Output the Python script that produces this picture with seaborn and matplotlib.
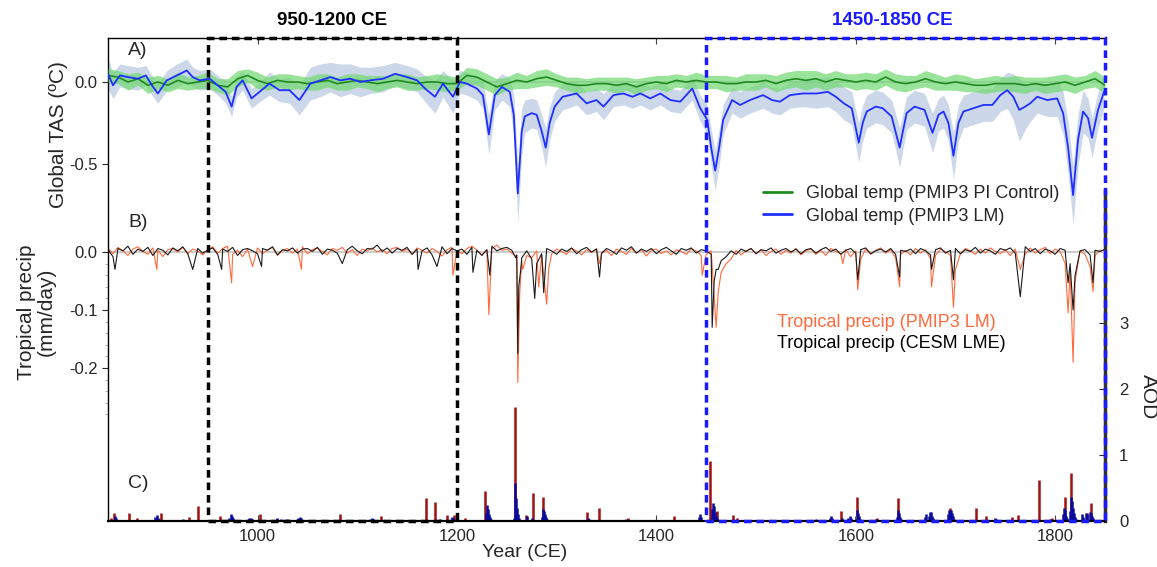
import numpy as np
import pandas as pd
import seaborn as sns
import matplotlib.pyplot as plt
from matplotlib.lines import Line2D
from matplotlib.patches import Rectangle
from matplotlib.transforms import blended_transform_factory

sns.set_style("ticks")
plt.rcParams["font.family"] = ["Liberation Sans", "DejaVu Sans"]

# ---- A) global temperature, PMIP3 LM (blue) ----
lm_years = [850, 855, 862, 870, 880, 888, 894, 900, 909, 919,
            929, 935, 942, 952, 962, 968, 974, 979, 985, 994,
            1002, 1012, 1022, 1032, 1042, 1053, 1063, 1073, 1083, 1093,
            1103, 1113, 1126, 1138, 1150, 1160, 1168, 1178, 1186, 1196,
            1203, 1210, 1220, 1226, 1232, 1238, 1245, 1253, 1257, 1261,
            1265, 1268, 1275, 1280, 1285, 1289, 1293, 1298, 1306, 1320,
            1330, 1340, 1347, 1357, 1367, 1376, 1384, 1394, 1404, 1414,
            1424, 1436, 1444, 1451, 1455, 1459, 1463, 1467, 1476, 1484,
            1494, 1507, 1516, 1524, 1534, 1547, 1561, 1572, 1580, 1588,
            1596, 1603, 1607, 1611, 1620, 1627, 1636, 1644, 1651, 1659,
            1669, 1677, 1683, 1688, 1693, 1698, 1703, 1708, 1718, 1728,
            1737, 1745, 1752, 1758, 1764, 1770, 1775, 1782, 1792, 1802,
            1808, 1813, 1818, 1823, 1828, 1833, 1837, 1843, 1849]
lm_temp = [0.05, -0.02, 0.04, 0.03, 0.02, 0.04, -0.02, -0.07, 0.01, 0.04,
           0.07, 0.03, 0.01, 0.02, -0.03, -0.06, -0.15, -0.03, 0.01, -0.10,
           -0.06, -0.01, -0.05, -0.05, -0.11, -0.01, 0.01, 0.03, 0.01, 0.02,
           0.00, 0.01, 0.02, 0.05, 0.03, 0.01, -0.04, -0.09, -0.01, -0.09,
           0.00, -0.01, -0.04, -0.08, -0.32, -0.08, -0.03, -0.06, -0.20, -0.68,
           -0.30, -0.21, -0.19, -0.20, -0.30, -0.40, -0.25, -0.15, -0.09, -0.07,
           -0.13, -0.11, -0.15, -0.08, -0.07, -0.09, -0.07, -0.10, -0.07, -0.11,
           -0.12, -0.04, -0.16, -0.23, -0.40, -0.54, -0.40, -0.23, -0.11, -0.14,
           -0.11, -0.08, -0.11, -0.12, -0.08, -0.07, -0.07, -0.06, -0.09, -0.13,
           -0.16, -0.37, -0.25, -0.18, -0.15, -0.16, -0.21, -0.40, -0.19, -0.15,
           -0.17, -0.31, -0.20, -0.18, -0.25, -0.45, -0.25, -0.18, -0.16, -0.14,
           -0.14, -0.08, -0.05, -0.09, -0.17, -0.15, -0.13, -0.09, -0.11, -0.10,
           -0.19, -0.40, -0.69, -0.35, -0.18, -0.22, -0.34, -0.17, -0.06]
lm_spread = [0.09, 0.08, 0.07, 0.07, 0.07, 0.06, 0.06, 0.06, 0.06, 0.07,
             0.07, 0.06, 0.06, 0.06, 0.06, 0.07, 0.06, 0.06, 0.06, 0.06,
             0.06, 0.07, 0.07, 0.08, 0.09, 0.10, 0.10, 0.09, 0.10, 0.09,
             0.09, 0.08, 0.08, 0.07, 0.07, 0.07, 0.08, 0.10, 0.08, 0.10,
             0.07, 0.07, 0.07, 0.08, 0.12, 0.09, 0.08, 0.09, 0.12, 0.18,
             0.14, 0.10, 0.09, 0.09, 0.10, 0.12, 0.10, 0.09, 0.08, 0.07,
             0.07, 0.07, 0.08, 0.07, 0.07, 0.07, 0.07, 0.07, 0.07, 0.07,
             0.07, 0.07, 0.08, 0.09, 0.11, 0.12, 0.11, 0.09, 0.08, 0.08,
             0.08, 0.08, 0.08, 0.08, 0.08, 0.08, 0.09, 0.09, 0.09, 0.10,
             0.10, 0.12, 0.11, 0.10, 0.10, 0.10, 0.10, 0.12, 0.10, 0.10,
             0.10, 0.12, 0.10, 0.10, 0.11, 0.14, 0.11, 0.10, 0.10, 0.10,
             0.10, 0.10, 0.11, 0.14, 0.19, 0.14, 0.11, 0.10, 0.10, 0.11,
             0.13, 0.16, 0.18, 0.16, 0.13, 0.12, 0.12, 0.11, 0.10]

# ---- A) global temperature, PMIP3 PI control (green), every 10 years ----
pi_years = list(range(850, 1851, 10))
pi_temp = [0.04, 0.03, 0.00, 0.02, -0.02, 0.00, -0.02, 0.01, -0.01, 0.00,
           0.01, -0.02, -0.03, 0.02, 0.04, 0.01, -0.01, 0.01, 0.00, 0.00,
           -0.01, 0.00, 0.01, -0.01, 0.00, 0.01, 0.00, -0.01, 0.00, 0.01,
           0.00, -0.01, 0.00, 0.00, -0.01, -0.01, 0.04, 0.03, 0.00, -0.03,
           -0.01, 0.01, 0.00, 0.02, 0.03, 0.01, -0.01, -0.02, -0.02, -0.01,
           -0.01, -0.02, -0.01, -0.03, -0.01, 0.00, -0.01, 0.01, 0.00, 0.01,
           0.00, 0.00, -0.01, -0.01, 0.00, 0.00, 0.01, -0.01, 0.01, 0.02,
           0.01, 0.02, 0.00, 0.02, 0.01, 0.00, 0.01, 0.00, 0.03, 0.00,
           -0.01, 0.00, 0.02, 0.00, -0.01, 0.00, -0.01, -0.02, -0.02, -0.01,
           -0.01, -0.01, -0.02, -0.01, -0.02, -0.01, 0.00, -0.02, 0.00, 0.02,
           -0.02]
pi_spread = [0.04, 0.04, 0.05, 0.04, 0.05, 0.04, 0.04, 0.05, 0.04, 0.04,
             0.05, 0.04, 0.05, 0.05, 0.04, 0.05, 0.04, 0.04, 0.05, 0.04,
             0.04, 0.05, 0.04, 0.04, 0.05, 0.04, 0.04, 0.05, 0.04, 0.04,
             0.05, 0.04, 0.04, 0.05, 0.05, 0.04, 0.05, 0.05, 0.05, 0.05,
             0.04, 0.05, 0.04, 0.05, 0.05, 0.04, 0.04, 0.05, 0.04, 0.04,
             0.04, 0.05, 0.04, 0.05, 0.04, 0.04, 0.05, 0.04, 0.04, 0.05,
             0.04, 0.04, 0.05, 0.04, 0.05, 0.05, 0.04, 0.05, 0.05, 0.05,
             0.06, 0.05, 0.05, 0.05, 0.04, 0.05, 0.05, 0.05, 0.05, 0.05,
             0.05, 0.04, 0.05, 0.05, 0.04, 0.05, 0.05, 0.04, 0.05, 0.05,
             0.04, 0.05, 0.05, 0.04, 0.05, 0.05, 0.05, 0.05, 0.04, 0.05,
             0.05]

# ---- B) tropical precipitation, background every 5 years ----
pr_years = list(range(850, 1851, 5))
cesm_bg = [0.004, -0.008, 0.006, 0.002, 0.010, -0.004, 0.005, 0.001, 0.008, -0.006,
           0.006, 0.003, -0.005, 0.007, 0.002, 0.009, -0.003, 0.004, 0.006, -0.002,
           0.003, 0.007, -0.004, 0.005, 0.001, 0.008, -0.006, 0.004, 0.006, 0.002,
           -0.003, 0.006, 0.003, 0.009, -0.005, 0.004, 0.002, 0.007, -0.002, 0.005,
           0.006, 0.001, 0.008, -0.004, 0.005, 0.003, -0.002, 0.007, 0.004, 0.010,
           0.002, -0.003, 0.006, 0.005, 0.012, 0.001, 0.007, -0.002, 0.006, 0.003,
           0.008, -0.004, 0.005, 0.002, 0.007, -0.005, 0.004, 0.009, -0.003, 0.006,
           0.002, 0.005, -0.004, 0.008, 0.003, -0.006, 0.004, 0.010, 0.002, 0.006,
           0.008, 0.003, -0.005, -0.010, 0.002, -0.012, 0.004, -0.003, 0.006, 0.002,
           -0.004, 0.005, 0.001, 0.007, -0.003, 0.004, 0.008, 0.000, 0.005, -0.002,
           0.006, 0.002, -0.004, 0.007, 0.003, 0.009, -0.002, 0.005, 0.001, 0.006,
           -0.003, 0.004, 0.008, 0.002, -0.004, 0.006, 0.003, 0.007, -0.002, 0.004,
           0.002, -0.004, -0.030, -0.015, -0.008, 0.002, -0.004, 0.005, 0.001, 0.006,
           -0.003, 0.004, 0.002, 0.007, -0.002, 0.003, 0.006, 0.000, 0.005, -0.003,
           0.004, 0.006, -0.002, 0.004, 0.008, 0.001, 0.005, -0.004, 0.003, 0.006,
           -0.002, 0.004, 0.007, -0.003, 0.002, 0.005, 0.000, 0.006, -0.004, 0.003,
           0.001, 0.005, -0.003, 0.006, 0.002, -0.005, 0.004, 0.007, -0.002, 0.003,
           0.006, -0.003, 0.004, 0.001, 0.008, -0.002, 0.005, 0.002, -0.004, 0.006,
           0.003, 0.007, -0.002, 0.004, 0.009, 0.001, 0.006, -0.003, 0.005, 0.002,
           -0.004, 0.006, 0.003, -0.010, -0.015, 0.002, 0.004, -0.005, 0.003, 0.001,
           0.005]
pmip_bg = [0.006, -0.003, 0.008, 0.002, -0.006, 0.005, 0.009, 0.001, -0.004, 0.007,
           0.003, -0.008, 0.004, 0.006, 0.000, 0.008, -0.003, 0.005, 0.002, -0.005,
           0.004, 0.009, -0.002, 0.006, 0.010, -0.004, 0.003, -0.008, 0.005, 0.002,
           0.007, -0.003, 0.004, 0.008, -0.006, 0.003, 0.006, -0.002, 0.005, 0.009,
           -0.003, 0.004, 0.007, 0.001, -0.005, 0.006, 0.003, 0.008, -0.002, 0.004,
           -0.006, 0.005, 0.002, 0.007, 0.000, 0.004, -0.003, 0.006, 0.008, 0.001,
           0.005, -0.004, 0.007, 0.003, -0.002, 0.006, 0.001, -0.007, 0.004, 0.008,
           0.002, -0.003, 0.006, 0.010, 0.003, -0.005, 0.004, 0.006, 0.012, 0.003,
           0.005, -0.002, -0.008, -0.015, -0.006, -0.010, 0.002, -0.006, 0.004, -0.003,
           0.005, 0.001, -0.004, 0.006, 0.002, -0.005, 0.004, -0.001, 0.006, -0.003,
           0.003, -0.006, 0.005, 0.001, -0.004, 0.006, -0.002, 0.004, -0.007, 0.003,
           0.005, -0.003, 0.002, -0.005, 0.004, 0.001, -0.004, 0.005, 0.002, -0.006,
           -0.004, 0.002, -0.060, -0.035, -0.020, -0.012, 0.003, -0.005, 0.002, 0.006,
           -0.003, 0.004, -0.006, 0.001, 0.005, -0.004, 0.003, -0.002, 0.006, -0.005,
           0.002, 0.005, -0.004, 0.003, -0.006, 0.006, 0.001, -0.003, 0.004, -0.008,
           0.002, -0.012, 0.005, -0.004, 0.003, 0.007, -0.002, 0.004, -0.010, -0.004,
           0.003, -0.005, 0.006, -0.002, 0.004, -0.012, -0.006, 0.005, 0.001, -0.006,
           0.004, -0.003, 0.006, 0.002, -0.004, 0.005, -0.002, 0.007, 0.001, -0.003,
           0.004, -0.006, 0.005, 0.002, -0.004, 0.007, -0.002, 0.004, 0.008, -0.003,
           0.005, 0.001, -0.020, -0.030, -0.012, 0.002, -0.004, -0.025, -0.006, 0.003,
           0.002]

# volcanic excursions on top of the background
cesm_ev_years = [857, 935, 964, 1004, 1085, 1161, 1180, 1216, 1233, 1259, 1261, 1262,
                 1264, 1278, 1280, 1287, 1289, 1343, 1456, 1458, 1462, 1602, 1644,
                 1676, 1698, 1765, 1813, 1815, 1818, 1820, 1838]
cesm_ev_vals = [-0.030, -0.030, -0.030, -0.025, -0.020, -0.030, -0.025, -0.035, -0.040,
                -0.010, -0.175, -0.060, -0.030, -0.080, -0.020, -0.070, -0.020, -0.043,
                -0.130, -0.050, -0.030, -0.048, -0.043, -0.030, -0.048, -0.077, -0.053,
                -0.020, -0.100, -0.040, -0.053]
pmip_ev_years = [899, 974, 995, 1044, 1196, 1232, 1234, 1261, 1263, 1266, 1282, 1290,
                 1292, 1343, 1446, 1460, 1462, 1587, 1602, 1644, 1676, 1698, 1700,
                 1765, 1813, 1815, 1818, 1820, 1838]
pmip_ev_vals = [-0.030, -0.053, -0.025, -0.030, -0.040, -0.108, -0.030, -0.225, -0.070,
                -0.030, -0.060, -0.090, -0.030, -0.020, -0.040, -0.130, -0.070, -0.020,
                -0.065, -0.060, -0.060, -0.095, -0.030, -0.030, -0.105, -0.030, -0.190,
                -0.050, -0.068]

# ---- C) aerosol optical depth ----
aod_red_years = [853, 856, 871, 879, 903, 931, 940, 962, 1002, 1083, 1124, 1169, 1178,
                 1190, 1197, 1208, 1228, 1258, 1269, 1276, 1286, 1330, 1342, 1372,
                 1418, 1454, 1461, 1477, 1481, 1585, 1601, 1621, 1642, 1695, 1721,
                 1731, 1757, 1763, 1784, 1797, 1810, 1816, 1832, 1836]
aod_red = [0.05, 0.12, 0.12, 0.04, 0.12, 0.06, 0.22, 0.07, 0.11, 0.10, 0.08, 0.35, 0.29,
           0.09, 0.09, 0.04, 0.45, 1.73, 0.09, 0.42, 0.36, 0.13, 0.20, 0.05,
           0.07, 0.91, 0.15, 0.09, 0.05, 0.15, 0.37, 0.04, 0.35, 0.19, 0.20,
           0.08, 0.06, 0.09, 0.62, 0.05, 0.36, 0.73, 0.12, 0.28]
aod_blue_years = [857, 858, 870, 885, 897, 899, 900, 901, 910, 925, 942, 960, 971, 973,
                  974, 975, 991, 993, 994, 1010, 1020, 1024, 1030, 1041, 1043, 1044,
                  1045, 1060, 1075, 1100, 1113, 1115, 1116, 1140, 1155, 1167, 1183,
                  1195, 1196, 1199, 1229, 1230, 1231, 1232, 1233, 1234, 1257, 1258,
                  1259, 1260, 1261, 1262, 1270, 1275, 1285, 1286, 1287, 1288, 1289,
                  1290, 1331, 1332, 1340, 1350, 1370, 1380, 1395, 1410, 1430, 1443,
                  1444, 1445, 1456, 1457, 1458, 1459, 1460, 1461, 1470, 1500, 1520,
                  1540, 1560, 1574, 1575, 1576, 1586, 1592, 1594, 1595, 1600, 1601,
                  1602, 1603, 1604, 1620, 1641, 1642, 1643, 1644, 1645, 1660, 1669,
                  1670, 1673, 1674, 1675, 1676, 1677, 1693, 1694, 1695, 1696, 1697,
                  1698, 1699, 1710, 1725, 1740, 1741, 1755, 1770, 1795, 1808, 1809,
                  1810, 1811, 1812, 1815, 1816, 1817, 1818, 1819, 1820, 1821, 1827,
                  1828, 1831, 1832, 1835, 1836, 1837, 1838]
aod_blue = [0.07, 0.04, 0.02, 0.02, 0.06, 0.09, 0.05, 0.03, 0.02, 0.03, 0.02, 0.02, 0.05, 0.10,
            0.07, 0.04, 0.04, 0.05, 0.03, 0.02, 0.04, 0.03, 0.03, 0.04, 0.06, 0.04,
            0.02, 0.02, 0.02, 0.02, 0.03, 0.05, 0.03, 0.02, 0.02, 0.02, 0.03,
            0.06, 0.05, 0.03, 0.12, 0.25, 0.18, 0.10, 0.06, 0.03, 0.05, 0.57,
            0.35, 0.20, 0.10, 0.05, 0.08, 0.04, 0.06, 0.18, 0.15, 0.10, 0.06,
            0.03, 0.05, 0.03, 0.02, 0.02, 0.03, 0.02, 0.02, 0.02, 0.02, 0.06,
            0.10, 0.06, 0.18, 0.27, 0.22, 0.14, 0.08, 0.05, 0.02, 0.02, 0.02,
            0.02, 0.03, 0.04, 0.07, 0.04, 0.05, 0.05, 0.07, 0.05, 0.08, 0.16,
            0.12, 0.07, 0.03, 0.03, 0.06, 0.17, 0.12, 0.06, 0.03, 0.02, 0.06,
            0.10, 0.08, 0.14, 0.13, 0.08, 0.04, 0.10, 0.17, 0.15, 0.17, 0.12,
            0.07, 0.03, 0.02, 0.02, 0.04, 0.03, 0.02, 0.02, 0.03, 0.10, 0.19,
            0.16, 0.08, 0.04, 0.15, 0.37, 0.30, 0.20, 0.12, 0.06, 0.03, 0.10,
            0.06, 0.12, 0.10, 0.13, 0.12, 0.07, 0.04]


def merge(bg_years, bg_vals, ev_years, ev_vals):
    d = dict(zip(bg_years, bg_vals))
    d.update(zip(ev_years, ev_vals))
    s = pd.Series(d).sort_index()
    return s.index.values, s.values


cesm_x, cesm_y = merge(pr_years, cesm_bg, cesm_ev_years, cesm_ev_vals)
pmip_x, pmip_y = merge(pr_years, pmip_bg, pmip_ev_years, pmip_ev_vals)

lm = np.array(lm_temp)
lm_sp = np.array(lm_spread)
pi = np.array(pi_temp)
pi_sp = np.array(pi_spread)

W, H = 1157, 567
fig = plt.figure(figsize=(W / 100, H / 100), dpi=100)
rect = [108 / W, 46 / H, 997 / W, 483 / H]
ax_a = fig.add_axes(rect)
ax_p = fig.add_axes(rect)
ax_t = fig.add_axes(rect)
for ax in (ax_a, ax_p, ax_t):
    ax.set_xlim(850, 1850)
    ax.patch.set_alpha(0)

# panel A
ax_t.axhline(0, color="#c4c4c4", lw=1.2, zorder=1)
ax_t.fill_between(lm_years, lm - lm_sp, lm + lm_sp, color="#bccbe2", alpha=0.75, lw=0, zorder=2)
ax_t.fill_between(pi_years, pi - pi_sp, pi + pi_sp, color="#6fd86f", alpha=0.7, lw=0, zorder=3)
sns.lineplot(x=pi_years, y=pi_temp, ax=ax_t, color="#1f8a1f", lw=1.2, estimator=None, zorder=4)
sns.lineplot(x=lm_years, y=lm_temp, ax=ax_t, color="#1f2fff", lw=1.3, estimator=None, zorder=5)
ax_t.set_ylim(-439 / 164, 44 / 164)

# panel B
ax_p.axhline(0, color="#c4c4c4", lw=1.2, zorder=1)
sns.lineplot(x=pmip_x, y=pmip_y, ax=ax_p, color="#ff6a3d", lw=0.8, estimator=None, zorder=3)
sns.lineplot(x=cesm_x, y=cesm_y, ax=ax_p, color="#1a1a1a", lw=0.8, estimator=None, zorder=4)
ax_p.set_ylim(-269 / 580, 214 / 580)

# panel C
ax_a.vlines(aod_red_years, 0, aod_red, color="#a01010", lw=1.8, zorder=3)
ax_a.vlines(aod_blue_years, 0, aod_blue, color="#0a0a9c", lw=1.8, zorder=4)
ax_a.set_ylim(0, 483 / 66)

# spines and ticks
ax_t.spines["right"].set_visible(False)
for s in ("left", "top", "bottom"):
    ax_t.spines[s].set_color("black")
    ax_t.spines[s].set_linewidth(1.0)
ax_t.spines["bottom"].set_linewidth(1.6)
ax_t.set_xticks([1000, 1200, 1400, 1600, 1800])
ax_t.tick_params(axis="x", top=True, direction="in", length=4, labelsize=12, pad=6, color="#444444")
ax_t.set_yticks([0, -0.5])
ax_t.set_yticklabels(["0.0", "-0.5"])
ax_t.tick_params(axis="y", direction="out", length=4, labelsize=12)

for s in ("left", "top", "bottom", "right"):
    ax_p.spines[s].set_visible(False)
ax_p.set_xticks([])
ax_p.set_yticks([0, -0.1, -0.2])
ax_p.set_yticklabels(["0.0", "-0.1", "-0.2"])
ax_p.set_yticks(np.arange(-0.28, 0.001, 0.02), minor=True)
ax_p.tick_params(axis="y", which="major", direction="out", length=4, labelsize=12)
ax_p.tick_params(axis="y", which="minor", direction="out", length=2.5, color="#aaaaaa")

for s in ("left", "top", "bottom"):
    ax_a.spines[s].set_visible(False)
ax_a.spines["right"].set_color("#333333")
ax_a.spines["right"].set_linewidth(2.5)
ax_a.spines["right"].set_bounds(0, 5)
ax_a.set_xticks([])
ax_a.yaxis.tick_right()
ax_a.set_yticks([0, 1, 2, 3])
ax_a.tick_params(axis="y", direction="in", length=4, labelsize=12, pad=10)

# labels
ax_t.set_xlabel("Year (CE)", fontsize=14)
ax_t.xaxis.set_label_coords(0.418, -0.047)
ax_t.set_ylabel("Global TAS (ºC)", fontsize=15)
ax_t.yaxis.set_label_coords(-0.040, 0.80)
ax_p.set_xlabel("")
ax_p.set_ylabel("Tropical precip\n(mm/day)", fontsize=15, linespacing=1.1)
ax_p.yaxis.set_label_coords(-0.052, 0.433)
ax_a.set_xlabel("")
ax_a.yaxis.set_label_position("right")
ax_a.set_ylabel("AOD", fontsize=15, rotation=270, va="bottom")
ax_a.yaxis.set_label_coords(1.034, 0.257)

ax_t.text(0.02, 0.975, "A)", transform=ax_t.transAxes, fontsize=14, va="center")
ax_t.text(0.02, 0.619, "B)", transform=ax_t.transAxes, fontsize=14, va="center")
ax_t.text(0.02, 0.077, "C)", transform=ax_t.transAxes, fontsize=14, va="center")

handles = [Line2D([], [], color="#1f8a1f", lw=2),
           Line2D([], [], color="#1f2fff", lw=2)]
ax_t.legend(handles, ["Global temp (PMIP3 PI Control)", "Global temp (PMIP3 LM)"],
            loc="upper left", bbox_to_anchor=(0.657, 0.695), frameon=False,
            fontsize=13, handlelength=1.6, handletextpad=0.8, labelspacing=0.3,
            borderpad=0, borderaxespad=0)
ax_t.text(0.671, 0.41, "Tropical precip (PMIP3 LM)", transform=ax_t.transAxes,
          fontsize=13, color="#ff6a3d", va="center")
ax_t.text(0.671, 0.368, "Tropical precip (CESM LME)", transform=ax_t.transAxes,
          fontsize=13, color="black", va="center")

# highlighted periods
tr = blended_transform_factory(ax_t.transData, ax_t.transAxes)
ax_t.add_patch(Rectangle((950, 0), 250, 1, transform=tr, fill=False, ec="black",
                         lw=2.5, ls=(0, (2.2, 1.4)), clip_on=False, zorder=10))
ax_t.add_patch(Rectangle((1450, 0), 400, 1, transform=tr, fill=False, ec="#1a1aff",
                         lw=2.5, ls=(0, (2.2, 1.4)), clip_on=False, zorder=10))
ax_t.text(1075, 1.037, "950-1200 CE", transform=tr, ha="center", va="center",
          fontsize=13.5, fontweight="bold", color="black")
ax_t.text(1637, 1.037, "1450-1850 CE", transform=tr, ha="center", va="center",
          fontsize=13.5, fontweight="bold", color="#1a1aff")

fig.savefig("out.png", dpi=100)
